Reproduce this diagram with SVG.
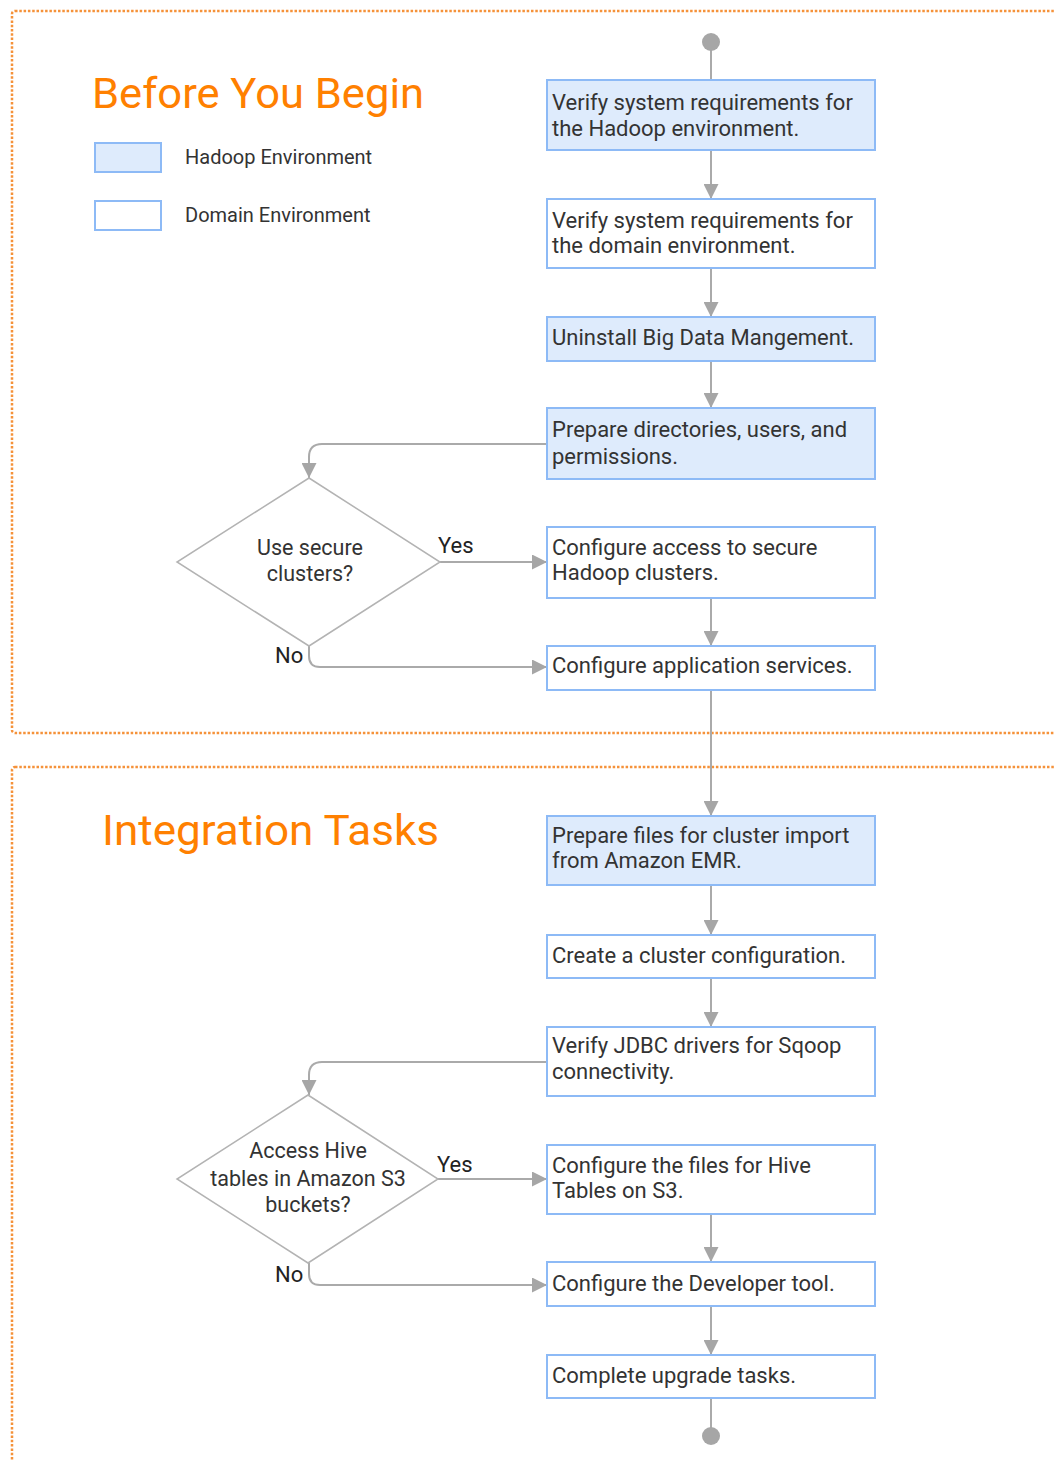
<svg xmlns="http://www.w3.org/2000/svg" width="1054" height="1461" viewBox="0 0 1054 1461">
<style>
  .frame { fill: none; stroke: #F5923A; stroke-width: 2.5; stroke-dasharray: 2.5 1.8; }
  .title { font-family: Roboto, "Liberation Sans", sans-serif; font-size: 42px; fill: #FF8000; }
  .legend { font-family: Roboto, "Liberation Sans", sans-serif; font-size: 20px; fill: #333333; }
  .box { stroke: #8DBAF6; stroke-width: 2; }
  .had { fill: #DEEBFC; }
  .dom { fill: #FFFFFF; }
  .t { font-family: Roboto, "Liberation Sans", sans-serif; font-size: 22px; fill: #333333; }
  .dt { font-family: Roboto, "Liberation Sans", sans-serif; font-size: 21.5px; fill: #333333; text-anchor: middle; }
  .lbl { font-family: Roboto, "Liberation Sans", sans-serif; font-size: 22px; fill: #222222; }
  .dia { fill: #FFFFFF; stroke: #B3B3B3; stroke-width: 1.5; }
  .c { fill: none; stroke: #AAAAAA; stroke-width: 2; }
  .end { fill: #A6A6A6; }
</style>
<defs>
  <marker id="arr" markerUnits="userSpaceOnUse" markerWidth="15" markerHeight="15" viewBox="0 0 15 15" refX="15" refY="7.5" orient="auto">
    <path d="M0,0 L15,7.5 L0,15 Z" fill="#A6A6A6"/>
  </marker>
</defs>

<rect class="frame" x="12" y="11" width="1100" height="722" rx="3"/>
<rect class="frame" x="12" y="767" width="1100" height="800" rx="3"/>

<g id="title1"><text class="title" x="92" y="108" textLength="332" lengthAdjust="spacingAndGlyphs">Before You Begin</text></g>
<g id="title2"><text class="title" x="102" y="845" textLength="337" lengthAdjust="spacingAndGlyphs">Integration Tasks</text></g>

<g id="legend">
  <rect class="box had" x="95" y="143" width="66" height="29"/>
  <text class="legend" x="185" y="164">Hadoop Environment</text>
  <rect class="box dom" x="95" y="201" width="66" height="29"/>
  <text class="legend" x="185" y="222">Domain Environment</text>
</g>

<g id="connectors">
  <line class="c" x1="711" y1="42" x2="711" y2="80"/>
  <line class="c" x1="711" y1="150" x2="711" y2="199" marker-end="url(#arr)"/>
  <line class="c" x1="711" y1="268" x2="711" y2="317" marker-end="url(#arr)"/>
  <line class="c" x1="711" y1="361" x2="711" y2="408" marker-end="url(#arr)"/>
  <path class="c" d="M547,444 L322,444 Q309,444 309,457 L309,478" marker-end="url(#arr)"/>
  <line class="c" x1="440" y1="562" x2="547" y2="562" marker-end="url(#arr)"/>
  <path class="c" d="M309,646 L309,656 Q309,667 320,667 L547,667" marker-end="url(#arr)"/>
  <line class="c" x1="711" y1="598" x2="711" y2="646" marker-end="url(#arr)"/>
  <line class="c" x1="711" y1="690" x2="711" y2="816" marker-end="url(#arr)"/>
  <line class="c" x1="711" y1="885" x2="711" y2="935" marker-end="url(#arr)"/>
  <line class="c" x1="711" y1="978" x2="711" y2="1027" marker-end="url(#arr)"/>
  <path class="c" d="M547,1062 L322,1062 Q309,1062 309,1075 L309,1095" marker-end="url(#arr)"/>
  <line class="c" x1="438" y1="1179" x2="547" y2="1179" marker-end="url(#arr)"/>
  <path class="c" d="M309,1263 L309,1274 Q309,1285 320,1285 L547,1285" marker-end="url(#arr)"/>
  <line class="c" x1="711" y1="1214" x2="711" y2="1262" marker-end="url(#arr)"/>
  <line class="c" x1="711" y1="1306" x2="711" y2="1355" marker-end="url(#arr)"/>
  <line class="c" x1="711" y1="1398" x2="711" y2="1436"/>
</g>

<g id="start"><circle class="end" cx="711" cy="42" r="9"/></g>
<g id="finish"><circle class="end" cx="711" cy="1436" r="9"/></g>

<g id="n1"><rect class="box had" x="547" y="80" width="328" height="70"/>
  <text class="t" x="552" y="110">Verify system requirements for</text>
  <text class="t" x="552" y="136">the Hadoop environment.</text></g>
<g id="n2"><rect class="box dom" x="547" y="199" width="328" height="69"/>
  <text class="t" x="552" y="228">Verify system requirements for</text>
  <text class="t" x="552" y="253">the domain environment.</text></g>
<g id="n3"><rect class="box had" x="547" y="317" width="328" height="44"/>
  <text class="t" x="552" y="345">Uninstall Big Data Mangement.</text></g>
<g id="n4"><rect class="box had" x="547" y="408" width="328" height="71"/>
  <text class="t" x="552" y="437">Prepare directories, users, and</text>
  <text class="t" x="552" y="464">permissions.</text></g>
<g id="d1"><polygon class="dia" points="309,478 440,562 309,646 177,562"/>
  <text class="dt" x="310" y="555">Use secure</text>
  <text class="dt" x="310" y="581">clusters?</text></g>
<g id="l1"><text class="lbl" x="438" y="553">Yes</text><text class="lbl" x="275" y="663">No</text></g>
<g id="n5"><rect class="box dom" x="547" y="527" width="328" height="71"/>
  <text class="t" x="552" y="555">Configure access to secure</text>
  <text class="t" x="552" y="580">Hadoop clusters.</text></g>
<g id="n6"><rect class="box dom" x="547" y="646" width="328" height="44"/>
  <text class="t" x="552" y="673">Configure application services.</text></g>
<g id="n7"><rect class="box had" x="547" y="816" width="328" height="69"/>
  <text class="t" x="552" y="843">Prepare files for cluster import</text>
  <text class="t" x="552" y="868">from Amazon EMR.</text></g>
<g id="n8"><rect class="box dom" x="547" y="935" width="328" height="43"/>
  <text class="t" x="552" y="963">Create a cluster configuration.</text></g>
<g id="n9"><rect class="box dom" x="547" y="1027" width="328" height="69"/>
  <text class="t" x="552" y="1053">Verify JDBC drivers for Sqoop</text>
  <text class="t" x="552" y="1079">connectivity.</text></g>
<g id="d2"><polygon class="dia" points="308,1095 438,1179 308,1263 177,1179"/>
  <text class="dt" x="308" y="1158">Access Hive</text>
  <text class="dt" x="308" y="1186">tables in Amazon S3</text>
  <text class="dt" x="308" y="1212">buckets?</text></g>
<g id="l2"><text class="lbl" x="437" y="1172">Yes</text><text class="lbl" x="275" y="1282">No</text></g>
<g id="n10"><rect class="box dom" x="547" y="1145" width="328" height="69"/>
  <text class="t" x="552" y="1173">Configure the files for Hive</text>
  <text class="t" x="552" y="1198">Tables on S3.</text></g>
<g id="n11"><rect class="box dom" x="547" y="1262" width="328" height="44"/>
  <text class="t" x="552" y="1291">Configure the Developer tool.</text></g>
<g id="n12"><rect class="box dom" x="547" y="1355" width="328" height="43"/>
  <text class="t" x="552" y="1383">Complete upgrade tasks.</text></g>
</svg>
